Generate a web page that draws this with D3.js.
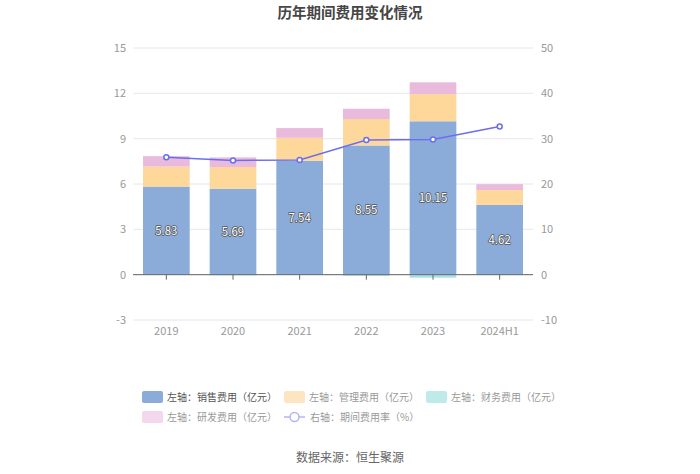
<!DOCTYPE html>
<html><head><meta charset="utf-8">
<script src="https://cdn.jsdelivr.net/npm/d3@7/dist/d3.min.js"></script>
<style>body{margin:0;background:#fff}svg{display:block;font-family:"Noto Sans CJK SC","Noto Sans",sans-serif}</style>
</head><body><svg id="c" width="700" height="474"></svg>
<script>
const categories = ["2019","2020","2021","2022","2023","2024H1"];
const sales = [5.83,5.69,7.54,8.55,10.15,4.62];
const mgmt = [1.32,1.43,1.52,1.75,1.80,0.98];
const finance = [-0.02,-0.05,-0.02,-0.08,-0.20,-0.03];
const rd = [0.69,0.64,0.64,0.68,0.78,0.39];
const rate = [25.9,25.2,25.3,29.7,29.8,32.7];
const leftTicks = [-3,0,3,6,9,12,15];
const rightTicks = [-10,0,10,20,30,40,50];

const svg = d3.select("#c");
const L=133,R=533,T=48,B=320;
const x = d3.scaleBand().domain(categories).range([L,R]).paddingInner(0.3).paddingOuter(0.15);
const xc = d3.scaleBand().domain(categories).range([L,R]);
const yL = d3.scaleLinear().domain([-3,15]).range([B,T]);
const yR = d3.scaleLinear().domain([-10,50]).range([B,T]);

svg.append("g").selectAll("line").data(leftTicks).join("line")
  .attr("x1",L).attr("x2",R).attr("y1",d=>yL(d)).attr("y2",d=>yL(d))
  .attr("stroke","#e6e6ee").attr("stroke-width",1);

svg.append("g").selectAll("text").data(leftTicks).join("text")
  .attr("x",L-7).attr("y",d=>yL(d)).attr("dy","0.35em").attr("text-anchor","end")
  .attr("font-size",11).attr("fill","#999").text(d=>d);
svg.append("g").selectAll("text").data(rightTicks).join("text")
  .attr("x",R+8).attr("y",d=>yR(d)).attr("dy","0.35em").attr("text-anchor","start")
  .attr("font-size",11).attr("fill","#999").text(d=>d);

const colors = {sales:"#8babd9",mgmt:"#fed79a",finance:"#a5e3e3",rd:"#e9badc"};
const g = svg.append("g");
categories.forEach((c,i)=>{
  let pos=0, neg=0;
  const segs=[["sales",sales[i]],["mgmt",mgmt[i]],["finance",finance[i]],["rd",rd[i]]];
  segs.forEach(([k,v])=>{
    let y0,y1;
    if(v>=0){y0=pos;y1=pos+v;pos=y1;} else {y0=neg;y1=neg+v;neg=y1;}
    g.append("rect").attr("x",x(c)).attr("width",x.bandwidth())
      .attr("y",yL(Math.max(y0,y1))).attr("height",Math.abs(yL(y0)-yL(y1)))
      .attr("fill",colors[k]);
  });
});

svg.append("line").attr("x1",L).attr("x2",R).attr("y1",yL(0)).attr("y2",yL(0)).attr("stroke","#666");
svg.append("g").selectAll("line").data(categories).join("line")
  .attr("x1",d=>xc(d)+xc.bandwidth()/2).attr("x2",d=>xc(d)+xc.bandwidth()/2)
  .attr("y1",yL(0)).attr("y2",yL(0)+5).attr("stroke","#666");
svg.append("g").selectAll("text").data(categories).join("text")
  .attr("x",d=>xc(d)+xc.bandwidth()/2).attr("y",B+11).attr("dy","0.35em").attr("text-anchor","middle")
  .attr("font-size",11).attr("fill","#999").text(d=>d);

svg.append("g").selectAll("text").data(categories).join("text")
  .attr("x",d=>x(d)+x.bandwidth()/2).attr("y",(d,i)=>yL(sales[i]/2)).attr("dy","0.35em")
  .attr("text-anchor","middle").attr("font-size",11.5).attr("fill","#fff")
  .attr("stroke","#555").attr("stroke-width",1.5).attr("paint-order","stroke").attr("stroke-linejoin","round")
  .text((d,i)=>sales[i].toFixed(2));

const lineColor="#6b6ef0";
const line = d3.line().x((d,i)=>xc(categories[i])+xc.bandwidth()/2).y(d=>yR(d));
svg.append("path").datum(rate).attr("d",line).attr("fill","none").attr("stroke",lineColor).attr("stroke-width",1.5);
svg.append("g").selectAll("circle").data(rate).join("circle")
  .attr("cx",(d,i)=>xc(categories[i])+xc.bandwidth()/2).attr("cy",d=>yR(d)).attr("r",2.5)
  .attr("fill","#fff").attr("stroke",lineColor).attr("stroke-width",1.5);

svg.append("text").attr("x",350).attr("y",13).attr("dy","0.35em").attr("text-anchor","middle")
  .attr("font-size",14.5).attr("font-weight","bold").attr("fill","#464646").text("历年期间费用变化情况");
svg.append("text").attr("x",350).attr("y",458).attr("dy","0.35em").attr("text-anchor","middle")
  .attr("font-size",12).attr("fill","#666").text("数据来源：恒生聚源");

const legend = [
  {t:"左轴：销售费用（亿元）",c:"#8babd9",x:142,y:397,tc:"#555"},
  {t:"左轴：管理费用（亿元）",c:"#fee5c2",x:284,y:397,tc:"#999"},
  {t:"左轴：财务费用（亿元）",c:"#bfeaea",x:426,y:397,tc:"#999"},
  {t:"左轴：研发费用（亿元）",c:"#f3d7ec",x:142,y:417,tc:"#999"}
];
const lg = svg.append("g");
legend.forEach(d=>{
  lg.append("rect").attr("x",d.x).attr("y",d.y-6).attr("width",21).attr("height",12).attr("rx",2).attr("fill",d.c);
  lg.append("text").attr("x",d.x+25).attr("y",d.y).attr("dy","0.35em").attr("font-size",10).attr("fill",d.tc).text(d.t);
});
lg.append("line").attr("x1",284).attr("x2",305).attr("y1",417).attr("y2",417).attr("stroke","#b3b5f5").attr("stroke-width",1.5);
lg.append("circle").attr("cx",294.5).attr("cy",417).attr("r",4.5).attr("fill","#fff").attr("stroke","#b3b5f5").attr("stroke-width",1.5);
lg.append("text").attr("x",310).attr("y",417).attr("dy","0.35em").attr("font-size",10).attr("fill","#999").text("右轴：期间费用率（%）");
</script></body></html>
